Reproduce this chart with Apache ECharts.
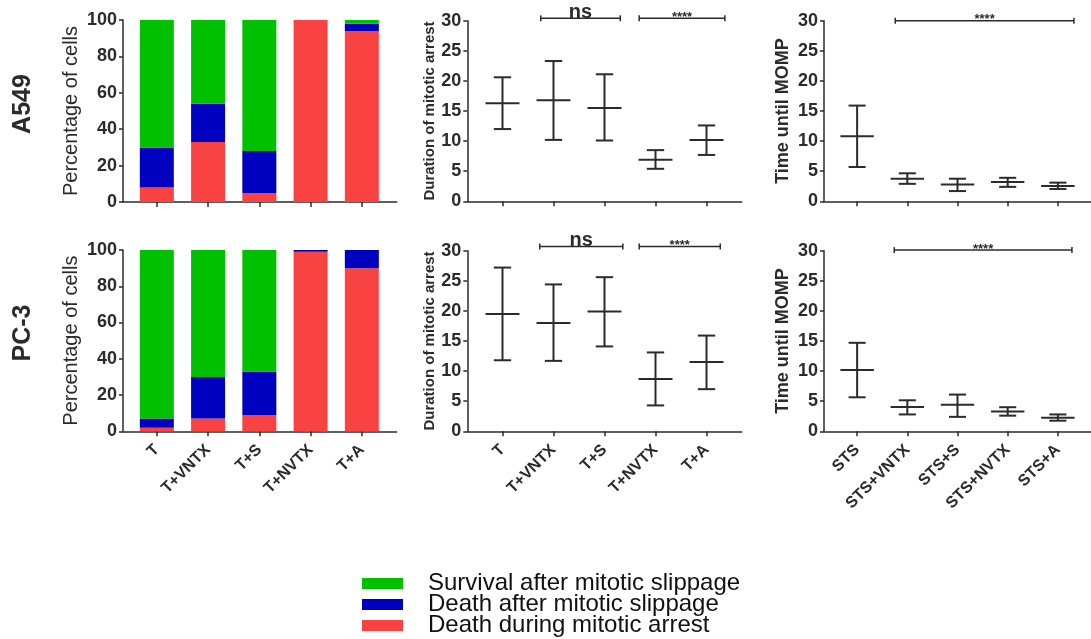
<!DOCTYPE html>
<html>
<head>
<meta charset="utf-8">
<title>Mitotic slippage</title>
<script src="https://cdn.jsdelivr.net/npm/echarts@6/dist/echarts.min.js"></script>
<style>
  html, body { margin: 0; padding: 0; background: #fff; }
  #main { width: 1091px; height: 639px; }
</style>
</head>
<body>
<div id="main"></div>
<script>
// categories
var taxolNames = ['T', 'T+VNTX', 'T+S', 'T+NVTX', 'T+A'];
var stsNames = ['STS', 'STS+VNTX', 'STS+S', 'STS+NVTX', 'STS+A'];
var fateNames = ['Survival after mitotic slippage', 'Death after mitotic slippage', 'Death during mitotic arrest'];

// cell fate (% of cells), stacked bottom -> top: red, blue, green
var a549Red = [8, 33, 5, 100, 94];
var a549Blue = [22, 21, 23, 0, 4];
var a549Green = [70, 46, 72, 0, 2];
var pc3Red = [2, 7, 9, 99, 90];
var pc3Blue = [5, 23, 24, 1, 10];
var pc3Green = [93, 70, 67, 0, 0];

// duration of mitotic arrest: mean, lower, upper
var a549ArrestMean = [16.3, 16.8, 15.5, 6.9, 10.2];
var a549ArrestLow = [12.0, 10.2, 10.1, 5.4, 7.7];
var a549ArrestHigh = [20.6, 23.3, 21.1, 8.5, 12.6];
var pc3ArrestMean = [19.5, 18.0, 19.9, 8.7, 11.5];
var pc3ArrestLow = [11.8, 11.7, 14.1, 4.3, 7.0];
var pc3ArrestHigh = [27.2, 24.4, 25.6, 13.1, 15.9];

// time until MOMP: mean, lower, upper
var a549MompMean = [10.8, 3.75, 2.8, 3.2, 2.55];
var a549MompLow = [5.7, 2.9, 1.7, 2.4, 2.05];
var a549MompHigh = [15.9, 4.65, 3.75, 3.9, 3.1];
var pc3MompMean = [10.2, 4.04, 4.4, 3.3, 2.26];
var pc3MompLow = [5.65, 2.8, 2.4, 2.6, 1.76];
var pc3MompHigh = [14.7, 5.15, 6.1, 4.0, 2.8];

// significance brackets: from, to, height, text
var a549ArrestSig = [[0.75, 2.31, 30.4, 'ns'], [2.68, 4.36, 30.4, '****']];
var pc3ArrestSig = [[0.73, 2.36, 30.7, 'ns'], [2.68, 4.27, 30.7, '****']];
var a549MompSig = [[0.76, 4.32, 30.0, '****']];
var pc3MompSig = [[0.74, 4.28, 30.1, '****']];

var positions = [0, 1, 2, 3, 4];
var FONT = 'Liberation Sans, Arial, sans-serif';
var INK = '#2b2b2b';
var colors = { green: '#00c000', blue: '#0000c0', red: '#f94343' };

function zip() {
    var arrs = arguments;
    return positions.map(function (p, i) {
        var row = [p];
        for (var k = 0; k < arrs.length; k++) row.push(arrs[k][i]);
        return row;
    });
}

// stacked segment: [x, base, top]
function stackData(values, below) {
    return positions.map(function (p, i) {
        var base = 0;
        for (var k = 0; k < below.length; k++) base += below[k][i];
        return [p, base, base + values[i]];
    });
}

function barRender(params, api) {
    var x = api.value(0);
    var p0 = api.coord([x, api.value(1)]);
    var p1 = api.coord([x, api.value(2)]);
    var w = 34;
    return {
        type: 'rect',
        shape: { x: p0[0] - w / 2, y: p1[1], width: w, height: p0[1] - p1[1] },
        style: { fill: api.visual('color') }
    };
}

function errRender(params, api) {
    var x = api.value(0);
    var pm = api.coord([x, api.value(1)]);
    var pl = api.coord([x, api.value(2)]);
    var ph = api.coord([x, api.value(3)]);
    var unit = api.size([1, 0])[0];
    var half = unit * 0.333, cap = unit * 0.17;
    var st = { stroke: INK, lineWidth: 2 };
    return {
        type: 'group',
        children: [
            { type: 'line', shape: { x1: pm[0], y1: ph[1], x2: pm[0], y2: pl[1] }, style: st },
            { type: 'line', shape: { x1: pm[0] - cap, y1: ph[1], x2: pm[0] + cap, y2: ph[1] }, style: st },
            { type: 'line', shape: { x1: pm[0] - cap, y1: pl[1], x2: pm[0] + cap, y2: pl[1] }, style: st },
            { type: 'line', shape: { x1: pm[0] - half, y1: pm[1], x2: pm[0] + half, y2: pm[1] }, style: st }
        ]
    };
}

function sigRender(list) {
    return function (params, api) {
        var s = list[params.dataIndex];
        var a = api.coord([s[0], s[2]]);
        var b = api.coord([s[1], s[2]]);
        var st = { stroke: INK, lineWidth: 1.5 };
        var isNs = s[3] === 'ns';
        return {
            type: 'group',
            children: [
                { type: 'line', shape: { x1: a[0], y1: a[1], x2: b[0], y2: b[1] }, style: st },
                { type: 'line', shape: { x1: a[0], y1: a[1] - 3, x2: a[0], y2: a[1] + 3 }, style: st },
                { type: 'line', shape: { x1: b[0], y1: b[1] - 3, x2: b[0], y2: b[1] + 3 }, style: st },
                {
                    type: 'text',
                    style: {
                        x: (a[0] + b[0]) / 2,
                        y: isNs ? a[1] + 4 : a[1] - 1,
                        text: s[3],
                        fill: INK,
                        font: 'bold ' + (isNs ? 20 : 13) + 'px ' + FONT,
                        textAlign: 'center',
                        textVerticalAlign: isNs ? 'bottom' : 'middle'
                    }
                }
            ]
        };
    };
}

function xAxisCfg(gi, names, min, max, showLabels) {
    return {
        type: 'value', gridIndex: gi, min: min, max: max,
        splitLine: { show: false },
        axisLine: { onZero: false, lineStyle: { color: INK, width: 1.5 } },
        axisTick: { show: true, customValues: positions, length: 5, lineStyle: { color: INK, width: 1.5 } },
        axisLabel: {
            show: showLabels, customValues: positions, rotate: 45, margin: 16,
            fontFamily: FONT, fontWeight: 'bold', fontSize: 16, color: INK,
            formatter: function (v) { return names[Math.round(v)]; }
        }
    };
}

function yAxisCfg(gi, max, interval, name, nameSize, nameBold, nameGap) {
    return {
        type: 'value', gridIndex: gi, min: 0, max: max, interval: interval,
        name: name, nameLocation: 'middle', nameGap: nameGap,
        nameTextStyle: { fontFamily: FONT, fontSize: nameSize, fontWeight: nameBold ? 'bold' : 'normal', color: INK },
        splitLine: { show: false },
        axisLine: { show: true, onZero: false, lineStyle: { color: INK, width: 1.5 } },
        axisTick: { show: true, length: 4, lineStyle: { color: INK, width: 1.5 } },
        axisLabel: { fontFamily: FONT, fontWeight: 'bold', fontSize: 18, color: INK, margin: 6 }
    };
}

function barSeries(name, idx, data, color) {
    return {
        name: name, type: 'custom',
        xAxisIndex: idx, yAxisIndex: idx,
        itemStyle: { color: color },
        renderItem: barRender, data: data, silent: true
    };
}

function errSeries(idx, mean, low, high) {
    return {
        type: 'custom', xAxisIndex: idx, yAxisIndex: idx,
        renderItem: errRender, data: zip(mean, low, high), silent: true
    };
}

function sigSeries(idx, list) {
    return {
        type: 'custom', xAxisIndex: idx, yAxisIndex: idx,
        renderItem: sigRender(list),
        data: list.map(function (s) { return [s[0], s[1], s[2]]; }), silent: true
    };
}

var chart = echarts.init(document.getElementById('main'), null, { renderer: 'canvas' });

var option = {
    animation: false,
    backgroundColor: '#fff',
    grid: [
        { left: 123, top: 20, width: 273.7, height: 182 },
        { left: 467.3, top: 20.7, width: 274.4, height: 180.6 },
        { left: 824, top: 20.7, width: 272.4, height: 180.6 },
        { left: 123, top: 250, width: 273.7, height: 181.3 },
        { left: 467.3, top: 250.7, width: 274.4, height: 180.6 },
        { left: 824, top: 250.7, width: 272.4, height: 180.6 }
    ],
    xAxis: [
        xAxisCfg(0, taxolNames, -0.66, 4.68, false),
        xAxisCfg(1, taxolNames, -0.69, 4.69, false),
        xAxisCfg(2, stsNames, -0.66, 4.66, false),
        xAxisCfg(3, taxolNames, -0.66, 4.68, true),
        xAxisCfg(4, taxolNames, -0.69, 4.69, true),
        xAxisCfg(5, stsNames, -0.66, 4.66, true)
    ],
    yAxis: [
        yAxisCfg(0, 100, 20, 'Percentage of cells', 20, false, 42),
        yAxisCfg(1, 30, 5, 'Duration of mitotic arrest', 15, true, 28),
        yAxisCfg(2, 30, 5, 'Time until MOMP', 18, true, 32),
        yAxisCfg(3, 100, 20, 'Percentage of cells', 20, false, 42),
        yAxisCfg(4, 30, 5, 'Duration of mitotic arrest', 15, true, 28),
        yAxisCfg(5, 30, 5, 'Time until MOMP', 18, true, 32)
    ],
    legend: {
        orient: 'vertical', left: 362, top: 571.5, padding: 0, height: 200,
        data: fateNames, icon: 'rect',
        itemWidth: 41, itemHeight: 11, itemGap: -3,
        textStyle: { fontFamily: FONT, fontSize: 24, color: '#111', padding: [0, 0, 0, 20] }
    },
    graphic: [
        { type: 'text', x: 23, y: 104, rotation: Math.PI / 2,
          style: { text: 'A549', font: 'bold 25px ' + FONT, fill: INK, textAlign: 'center', textVerticalAlign: 'middle' } },
        { type: 'text', x: 23, y: 333, rotation: Math.PI / 2,
          style: { text: 'PC-3', font: 'bold 25px ' + FONT, fill: INK, textAlign: 'center', textVerticalAlign: 'middle' } }
    ],
    series: [
        barSeries(fateNames[2], 0, stackData(a549Red, []), colors.red),
        barSeries(fateNames[1], 0, stackData(a549Blue, [a549Red]), colors.blue),
        barSeries(fateNames[0], 0, stackData(a549Green, [a549Red, a549Blue]), colors.green),
        barSeries(fateNames[2], 3, stackData(pc3Red, []), colors.red),
        barSeries(fateNames[1], 3, stackData(pc3Blue, [pc3Red]), colors.blue),
        barSeries(fateNames[0], 3, stackData(pc3Green, [pc3Red, pc3Blue]), colors.green),
        errSeries(1, a549ArrestMean, a549ArrestLow, a549ArrestHigh),
        errSeries(4, pc3ArrestMean, pc3ArrestLow, pc3ArrestHigh),
        errSeries(2, a549MompMean, a549MompLow, a549MompHigh),
        errSeries(5, pc3MompMean, pc3MompLow, pc3MompHigh),
        sigSeries(1, a549ArrestSig),
        sigSeries(4, pc3ArrestSig),
        sigSeries(2, a549MompSig),
        sigSeries(5, pc3MompSig)
    ]
};

chart.setOption(option);
</script>
</body>
</html>
